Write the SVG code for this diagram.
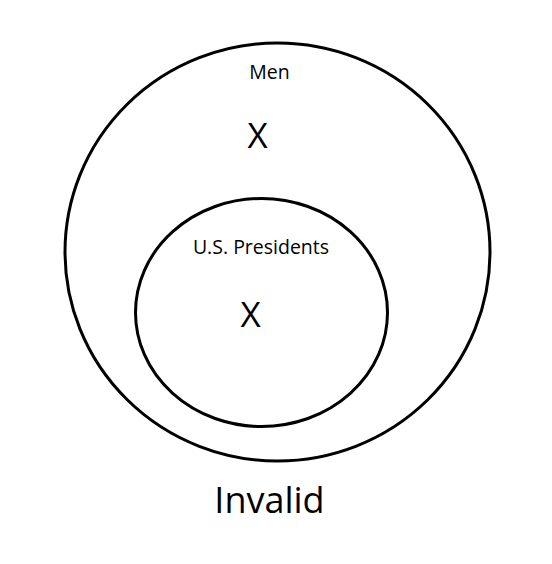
<svg xmlns="http://www.w3.org/2000/svg" width="552" height="564" viewBox="0 0 552 564">
<style>
.set{fill:none;stroke:#000;stroke-width:3}
text{font-family:"Open Sans","Liberation Sans",sans-serif;fill:#000;text-anchor:middle}
.lbl{font-size:19.5px}
.x{font-size:35px}
.big{font-size:36px}
</style>
<rect width="552" height="564" fill="#fff"/>
<g id="men">
<ellipse class="set" cx="277.5" cy="252" rx="212.5" ry="209"/>
<text class="lbl" x="269.5" y="79">Men</text>
<text class="x" x="257.5" y="148">X</text>
</g>
<g id="presidents">
<ellipse class="set" cx="261.5" cy="312.5" rx="126" ry="114"/>
<text class="lbl" x="261" y="254">U.S. Presidents</text>
<text class="x" x="250.5" y="327">X</text>
</g>
<g id="connectors"></g>
<text id="verdict" class="big" x="269.5" y="513">Invalid</text>
</svg>
